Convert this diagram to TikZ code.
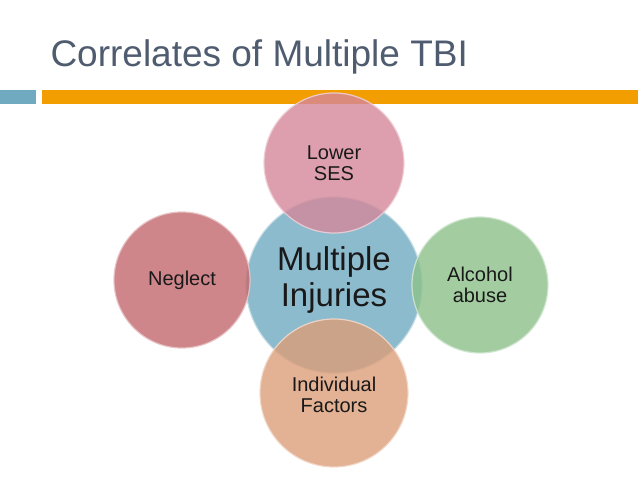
\documentclass[tikz,border=0pt]{standalone}
\usepackage{fontspec}
\setmainfont{Liberation Sans}
\begin{document}
\begin{tikzpicture}[x=1pt,y=-1pt,
 circ/.style={circle,draw=white!60!#1,line width=1.2pt,fill=#1,fill opacity=0.8,draw opacity=0.9},
 lab/.style={align=center,text=black!90,font=\fontsize{20}{21}\selectfont}]
\useasboundingbox (0,0) rectangle (638,478);
\definecolor{cb}{HTML}{6FAAC0}\definecolor{cp}{HTML}{D5879A}
\definecolor{cr}{HTML}{C2686E}\definecolor{cg}{HTML}{8CC18A}\definecolor{co}{HTML}{DC9D78}
\definecolor{tt}{HTML}{4F5C70}
\node[anchor=base west,text=tt,font=\fontsize{37}{37}\selectfont] (title) at (47,67) {Correlates of Multiple TBI};
\fill[cb] (0,90) rectangle (36,104);
\fill[orange!70!yellow!95!black] (42,90) rectangle (638,104);
\path[circ=cb] (334,285) circle (88);
\path[circ=cp] (334,163) circle (70);
\path[circ=cr] (182,280) circle (68);
\path[circ=cg] (480,285) circle (68);
\path[circ=co] (334,393) circle (74);
\node[lab,font=\fontsize{33}{36}\selectfont] (m) at (334,280) {Multiple\\Injuries};
\node[lab] (s) at (334,163) {Lower\\SES};
\node[lab] (n) at (182,280) {Neglect};
\node[lab] (a) at (480,285) {Alcohol\\abuse};
\node[lab] (f) at (334,395) {Individual\\Factors};
\end{tikzpicture}
\end{document}
